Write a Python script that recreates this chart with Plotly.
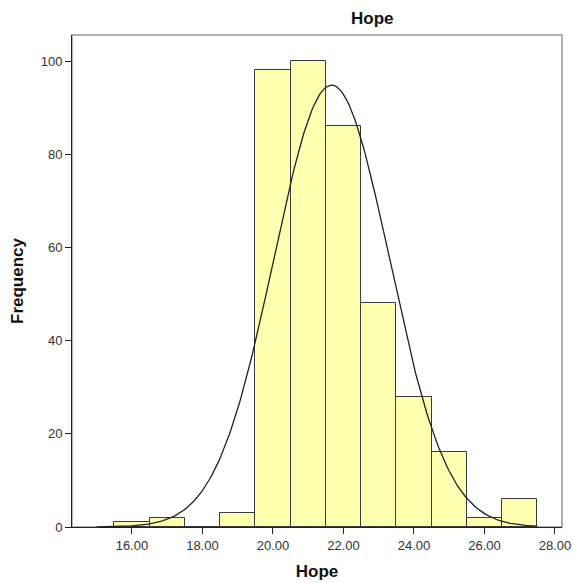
import numpy as np
import plotly.graph_objects as go

# Histogram data (bin centers, width 1)
bin_centers = [16, 17, 18, 19, 20, 21, 22, 23, 24, 25, 26, 27]
frequencies = [1, 2, 0, 3, 98, 100, 86, 48, 28, 16, 2, 6]
x_tick_vals = [16, 18, 20, 22, 24, 26, 28]
x_tick_text = ["16.00", "18.00", "20.00", "22.00", "24.00", "26.00", "28.00"]
y_tick_vals = [0, 20, 40, 60, 80, 100]
bin_width = 1.0

# Normal curve fitted to the histogram data
c = np.array(bin_centers, dtype=float)
f = np.array(frequencies, dtype=float)
n = f.sum()
mean = (c * f).sum() / n
sd = np.sqrt(((c - mean) ** 2 * f).sum() / (n - 1))
xs = np.linspace(15.0, 27.5, 300)
ys = n * bin_width / (sd * np.sqrt(2 * np.pi)) * np.exp(-0.5 * ((xs - mean) / sd) ** 2)

FONT = "Liberation Sans, Arial, sans-serif"

fig = go.Figure()
fig.add_trace(go.Bar(
    x=bin_centers, y=frequencies, width=bin_width,
    marker=dict(color="#FFFFB0", line=dict(color="#3a3a3a", width=1)),
    hoverinfo="x+y", showlegend=False,
))
fig.add_trace(go.Scatter(
    x=xs, y=ys, mode="lines",
    line=dict(color="#222222", width=1.3),
    showlegend=False, hoverinfo="skip",
))

fig.update_layout(
    width=573, height=583,
    margin=dict(l=72, r=11, t=35, b=56, autoexpand=False),
    paper_bgcolor="white", plot_bgcolor="white",
    bargap=0,
    font=dict(family=FONT, size=13, color="#333333"),
    xaxis=dict(
        range=[14.3, 28.2], tickvals=x_tick_vals, ticktext=x_tick_text,
        showgrid=False, zeroline=False, automargin=False,
        showline=True, linecolor="#222222", linewidth=1,
        ticks="outside", ticklen=6, tickcolor="#222222",
        tickfont=dict(family=FONT, size=13, color="#333333"),
        title=dict(text="<b>Hope</b>", font=dict(family=FONT, size=17, color="#111111"), standoff=13),
    ),
    yaxis=dict(
        range=[0, 105.6], tickvals=y_tick_vals,
        showgrid=False, zeroline=False, automargin=False,
        showline=True, linecolor="#222222", linewidth=1,
        ticks="outside", ticklen=6, tickcolor="#222222",
        tickfont=dict(family=FONT, size=13, color="#333333"),
        title=dict(text="<b>Frequency</b>", font=dict(family=FONT, size=17, color="#111111"), standoff=12),
    ),
    shapes=[dict(type="rect", xref="paper", yref="paper", x0=0, x1=1, y0=0, y1=1,
                 line=dict(color="#999999", width=1.5), layer="below")],
    annotations=[dict(text="<b>Hope</b>", xref="paper", yref="paper", x=0.614, y=1.0,
                      yshift=5, xanchor="center", yanchor="bottom", showarrow=False,
                      font=dict(family=FONT, size=17, color="#111111"))],
)

fig.write_html(
    "out.html",
    config={"displayModeBar": False},
    post_script="document.body.style.margin='0';document.body.style.overflow='hidden';",
)
